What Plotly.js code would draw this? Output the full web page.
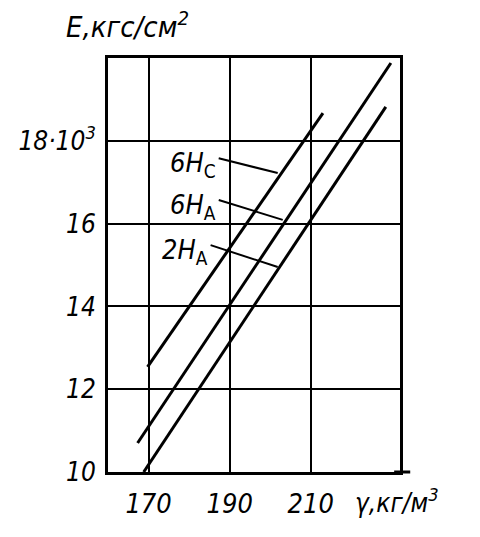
<!DOCTYPE html>
<html>
<head>
<meta charset="utf-8">
<script src="https://cdn.plot.ly/plotly-3.0.1.min.js"></script>
<style>html,body{margin:0;padding:0;background:#fff;}#chart{width:480px;height:537px;}</style>
</head>
<body>
<div id="chart"></div>
<script>
// Data (x: density γ, kg/m³; y: E, thousands of kgf/cm²)
const series6Hc_x = [169.75, 213.0];
const series6Hc_y = [12.54, 18.67];
const series6HA_x = [167.3, 229.75];
const series6HA_y = [10.70, 19.88];
const series2HA_x = [168.8, 228.5];
const series2HA_y = [10.0, 18.82];

const xTickVals = [170, 190, 210];
const xTickText = ['170', '190', '210'];
const yTickVals = [10, 12, 14, 16, 18];
const yTickText = ['10', '12', '14', '16', '18·10<sup>3</sup>'];

const labelNames = ['6H<sub><span style="font-style:normal">C</span></sub>',
                    '6H<sub><span style="font-style:normal">A</span></sub>',
                    '2H<sub><span style="font-style:normal">A</span></sub>'];
// leader lines: [x0, y0, x1, y1]
const leaders = [
  [187.3, 17.58, 201.85, 17.22],
  [187.3, 16.57, 203.09, 16.09],
  [185.3, 15.48, 201.85, 14.95]
];

const FONT = 'DejaVu Sans Condensed, Liberation Sans, sans-serif';
const lineStyle = {color: '#000', width: 3};

const traces = [
  {x: series6Hc_x, y: series6Hc_y, mode: 'lines', line: lineStyle, name: '6Hc'},
  {x: series6HA_x, y: series6HA_y, mode: 'lines', line: lineStyle, name: '6HA'},
  {x: series2HA_x, y: series2HA_y, mode: 'lines', line: lineStyle, name: '2HA'}
];

const shapes = leaders.map(l => ({
  type: 'line', xref: 'x', yref: 'y', x0: l[0], y0: l[1], x1: l[2], y1: l[3],
  line: {color: '#000', width: 2}
}));
shapes.push({type: 'line', xref: 'paper', yref: 'paper', x0: 0.98, x1: 1.035, y0: 0, y1: 0, line: {color: '#000', width: 3}});

const annotations = leaders.map((l, i) => ({
  x: l[0] - 0.2, y: l[1] - 0.15, xref: 'x', yref: 'y', xanchor: 'right', yanchor: 'middle',
  text: labelNames[i], showarrow: false,
  font: {family: FONT, size: 27, color: '#000', style: 'italic'}
}));
annotations.push({
  x: -0.15, y: 1.03, xref: 'paper', yref: 'paper', xanchor: 'left', yanchor: 'bottom',
  text: 'E,кгс/см<sup>2</sup>', showarrow: false,
  font: {family: FONT, size: 29, color: '#000', style: 'italic'}
});
annotations.push({
  x: 0.99, y: 0, xref: 'paper', yref: 'paper', xanchor: 'center', yanchor: 'top', yshift: -10,
  text: 'γ,кг/м<sup>3</sup>', showarrow: false,
  font: {family: FONT, size: 26, color: '#000', style: 'italic'}
});

const layout = {
  width: 480, height: 537,
  margin: {l: 108, r: 80, t: 58, b: 65},
  paper_bgcolor: '#fff', plot_bgcolor: '#fff',
  showlegend: false,
  font: {family: FONT, color: '#000'},
  xaxis: {
    range: [160, 232], tickvals: xTickVals, ticktext: xTickText,
    showgrid: true, gridcolor: '#000', gridwidth: 2,
    showline: true, linecolor: '#000', linewidth: 3, mirror: true,
    zeroline: false, ticks: '', ticklabelstandoff: 6,
    tickfont: {family: FONT, size: 27, color: '#000', style: 'italic'}
  },
  yaxis: {
    range: [10, 20], tickvals: yTickVals, ticktext: yTickText,
    showgrid: true, gridcolor: '#000', gridwidth: 2,
    showline: true, linecolor: '#000', linewidth: 3, mirror: true,
    zeroline: false, ticks: '', ticklabelstandoff: 4,
    tickfont: {family: FONT, size: 26, color: '#000', style: 'italic'}
  },
  shapes: shapes,
  annotations: annotations
};

Plotly.newPlot('chart', traces, layout, {staticPlot: true, displayModeBar: false});
</script>
</body>
</html>
